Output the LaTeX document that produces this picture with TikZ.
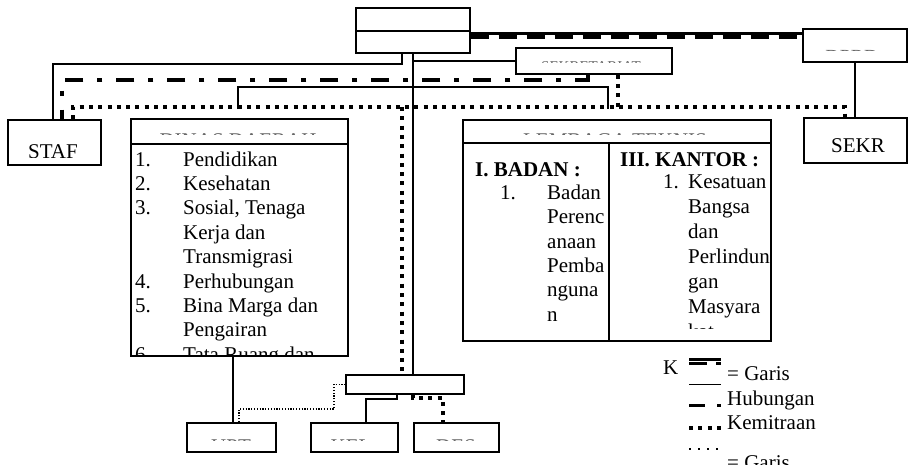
\documentclass[tikz,border=0pt]{standalone}
\usepackage{fontspec}
\setmainfont{Liberation Serif}
\begin{document}
\begin{tikzpicture}[x=1pt,y=-1pt,
  box/.style={draw, line width=1.6pt, inner sep=0pt, anchor=north west},
  txt/.style={inner sep=0pt, font=\fontsize{21}{24.4}\selectfont},
  btxt/.style={txt, font=\fontsize{21}{24.4}\selectfont\bfseries},
  conn/.style={line width=1.4pt},
  kmdthin/.style={line width=2.4pt},
  kmddash/.style={line width=3.4pt, dash pattern=on 18pt off 10pt},
  koord/.style={line width=4pt, dash pattern=on 18pt off 14pt on 5pt off 14pt},
  mitra/.style={line width=4pt, dash pattern=on 4pt off 5.3pt},
  fine/.style={line width=1.2pt, dash pattern=on 1.2pt off 1.6pt}
]
\clip (0,0) rectangle (909,464);
\fill[white] (0,0) rectangle (909,464);

% one-pixel slice through the top of a line of capitals
\newcommand\capslice[5]{% name, centre x, slice y, font size, text
  \begin{scope}
    \clip (#2-130,#3-0.9) rectangle (#2+130,#3+0.9);
    \node[inner sep=0pt, anchor=base, text=black!60,
          font=\fontsize{#4}{#4}\selectfont] (#1) at (#2,#3+0.655*#4) {#5};
  \end{scope}}

% ---------- boxes ----------
\node[box, minimum width=114, minimum height=45] (bupati) at (355,7) {};
\draw[line width=1.6pt] (bupati.west |- 0,31) -- (bupati.east |- 0,31);
\node[box, minimum width=104, minimum height=33] (dprd) at (802,28) {};
\node[box, minimum width=156, minimum height=26] (sekda) at (515,47) {};
\node[box, minimum width=93, minimum height=45] (staf) at (7,119) {};
\node[box, minimum width=217, minimum height=237] (dinas) at (130,118) {};
\draw[line width=1.6pt] (dinas.west |- 0,144) -- (dinas.east |- 0,144);
\node[box, minimum width=308, minimum height=221] (lemtek) at (462,119) {};
\draw[line width=1.6pt] (lemtek.west |- 0,143) -- (lemtek.east |- 0,143);
\draw[line width=2.6pt] (609,143) -- (lemtek.south -| 609,0);
\node[box, minimum width=103, minimum height=45] (sekr) at (803,117) {};
\node[box, minimum width=118, minimum height=19] (kec) at (345,374) {};
\node[box, minimum width=89, minimum height=29] (upt) at (186,422) {};
\node[box, minimum width=87, minimum height=29] (kel) at (310,422) {};
\node[box, minimum width=85, minimum height=29] (des) at (413,422) {};

% ---------- texts cut by their frames ----------
\capslice{tdprd}{852}{50}{20}{DPRD}
\capslice{tsekda}{591}{62}{15}{SEKRETARIAT}
\capslice{tdinas}{238}{134}{21}{DINAS DAERAH}
\capslice{tlemtek}{615}{134}{21}{LEMBAGA TEKNIS}
\capslice{tupt}{231}{440}{21}{UPT}
\capslice{tkel}{351}{440}{21}{KEL}
\capslice{tdes}{456}{440}{21}{DES}

\begin{scope}
  \clip (8,120) rectangle (99,157);
  \node[txt, anchor=base] (tstaf) at (53,158.8) {STAF};
\end{scope}
\node[txt, anchor=base] (tsekr) at (858,152) {SEKR};

% ---------- list of the dinas ----------
\begin{scope}
  \clip (131,145) rectangle (346,354.5);
  \foreach \n/\t [count=\i from 0] in {1./Pendidikan, 2./Kesehatan,
      3./{Sosial, Tenaga}, /Kerja dan, /Transmigrasi, 4./Perhubungan,
      5./Bina Marga dan, /Pengairan, 6./Tata Ruang dan} {
    \node[txt, anchor=base west] (dn\i) at (135,166+24.4*\i) {\n};
    \node[txt, anchor=base west] (dt\i) at (183,166+24.4*\i) {\t};
  }
\end{scope}

% ---------- lembaga teknis columns ----------
\node[btxt, anchor=base west] (badan) at (475,176) {I. BADAN :};
\node[txt, anchor=base west] (bnum) at (500,199.5) {1.};
\foreach \t [count=\i from 0] in {Badan, Perenc, anaan, Pemba, nguna, n}
  \node[txt, anchor=base west] (bt\i) at (547,199.5+24.3*\i) {\t};

\node[btxt, anchor=base west] (kantor) at (620,166) {III. KANTOR :};
\node[txt, anchor=base west] (knum) at (663,188) {1.};
\begin{scope}
  \clip (611,145) rectangle (769,328);
  \foreach \t [count=\i from 0] in {Kesatuan, Bangsa, dan, Perlindun, gan, Masyara, kat}
    \node[txt, anchor=base west] (kt\i) at (688,188+25*\i) {\t};
\end{scope}

% ---------- lines of command ----------
\draw[kmdthin] (bupati.east |- 0,33.5) -- (dprd.west |- 0,33.5);
\draw[kmddash] (bupati.east |- 0,36.8) -- (dprd.west |- 0,36.8);

% ---------- solid connectors ----------
\draw[conn] (bupati.south -| 402,0) |- (53,64) -- (staf.north -| 53,0);
\draw[conn] (bupati.south -| 413,0) -- (kec.north -| 413,0);
\draw[conn] (sekda.west -| 413,0) -- (sekda.west);
\coordinate (dinasin) at (238,109);
\coordinate (lemtekin) at (608,109);
\draw[conn] (dinasin) |- (608,87) -- (lemtekin);
\draw[conn] (dprd.south -| 855,0) -- (sekr.north -| 855,0);
\draw[conn] (dinas.south -| 233,0) -- (upt.north -| 233,0);
\draw[conn] (kec.south -| 397,0) |- (366,399) -- (kel.north -| 366,0);

% ---------- coordination (dash-dot) ----------
\draw[koord] (sekda.south -| 588,0) |- (62,80) -- (staf.north -| 62,0);

% ---------- partnership (square dots) ----------
\draw[mitra] (staf.north -| 73,0) |- (845,107) -- (sekr.north -| 845,0);
\coordinate (mitraend) at (618,107);
\draw[mitra] (sekda.south -| 618,0) -- (mitraend);
\draw[mitra] (402,107) -- (kec.north -| 402,0);
\draw[mitra] (kec.south -| 413,0) |- (443,398) -- (des.north -| 443,0);

% ---------- fine dotted ----------
\draw[fine] (upt.north -| 239,0) |- (334,409) |- (kec.west);

% ---------- legend ----------
\node[txt, anchor=base west] (lk) at (663,374) {K};
\coordinate (l1a) at (689,359.5); \coordinate (l1b) at (721,359.5);
\draw[line width=3pt] (l1a) -- (l1b);
\draw[line width=3pt] (689,363) -- (707,363);
\draw[line width=3pt] (716,363) -- (721,363);
\node[txt, anchor=base west] (lg1) at (727,380) {= Garis};
\coordinate (l2a) at (689,384.3); \coordinate (l2b) at (721,384.3);
\draw[line width=1.4pt] (l2a) -- (l2b);
\node[txt, anchor=base west] (lg2) at (727,405) {Hubungan};
\draw[line width=3pt] (689,405.5) -- (705,405.5);
\draw[line width=3pt] (717,405.5) -- (721,405.5);
\node[txt, anchor=base west] (lg3) at (727,429) {Kemitraan};
\draw[line width=3.5pt, dash pattern=on 3.8pt off 5.6pt] (689,428) -- (721,428);
\draw[line width=2pt, dash pattern=on 2pt off 7pt] (689,449) -- (721,449);
\node[txt, anchor=base west] (lg4) at (727,469) {= Garis};
\end{tikzpicture}
\end{document}
